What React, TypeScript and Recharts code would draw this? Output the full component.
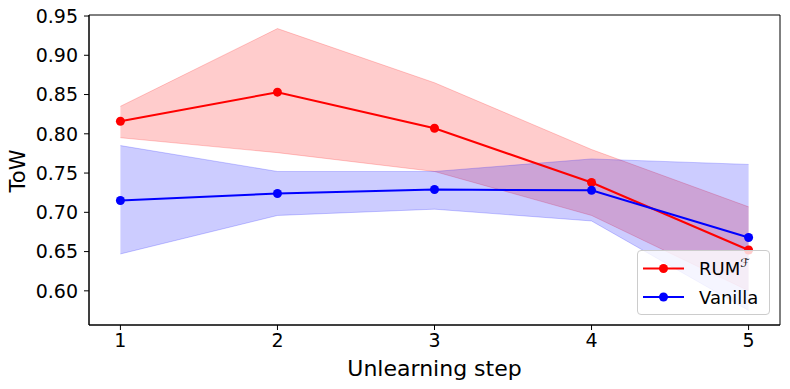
import React from 'react';
import { ComposedChart, Area, Line, XAxis, YAxis, ReferenceArea } from 'recharts';

const steps = [1, 2, 3, 4, 5];
const rumMean = [0.816, 0.853, 0.807, 0.738, 0.652];
const rumUpper = [0.835, 0.934, 0.865, 0.780, 0.707];
const rumLower = [0.795, 0.776, 0.752, 0.696, 0.600];
const vanillaMean = [0.715, 0.724, 0.729, 0.728, 0.668];
const vanillaUpper = [0.785, 0.752, 0.752, 0.768, 0.761];
const vanillaLower = [0.647, 0.696, 0.704, 0.689, 0.575];
const yTicks = [0.6, 0.65, 0.7, 0.75, 0.8, 0.85, 0.9, 0.95];

const xDomain = [0.8, 5.2];
const yDomain = [0.5565, 0.9513];

const data = steps.map((s, i) => ({
  step: s,
  rum: rumMean[i],
  rumBand: [rumLower[i], rumUpper[i]],
  vanilla: vanillaMean[i],
  vanillaBand: [vanillaLower[i], vanillaUpper[i]],
}));

const FONT = 'DejaVu Sans';
const tickStyle = { fontSize: 19, fill: '#000', fontFamily: FONT };

const LegendBox = () => (
  <div
    style={{
      position: 'absolute',
      left: 637,
      top: 250,
      width: 133,
      height: 65,
      boxSizing: 'border-box',
      border: '1px solid #cccccc',
      borderRadius: 4,
      background: 'rgba(255,255,255,0.8)',
    }}
  >
    <svg width={133} height={65} style={{ position: 'absolute', left: -1, top: -1 }}>
      <line x1={6} x2={47} y1={18.5} y2={18.5} stroke="red" strokeWidth={2} />
      <circle cx={26.5} cy={18.5} r={4.5} fill="red" />
      <text x={62} y={25} fontSize={18} fontFamily={FONT}>
        RUM
        <tspan dy={-8} fontSize={12} fontStyle="italic">ℱ</tspan>
      </text>
      <line x1={6} x2={47} y1={47} y2={47} stroke="blue" strokeWidth={2} />
      <circle cx={26.5} cy={47} r={4.5} fill="blue" />
      <text x={62} y={53.5} fontSize={18} fontFamily={FONT}>
        Vanilla
      </text>
    </svg>
  </div>
);

export default function App() {
  return (
    <div style={{ position: 'absolute', left: 0, top: 0, width: 790, height: 389 }}>
      <ComposedChart
        width={790}
        height={389}
        data={data}
        margin={{ top: 15, right: 10, bottom: 4, left: 0 }}
      >
        <XAxis
          dataKey="step"
          type="number"
          domain={xDomain}
          ticks={steps}
          stroke="#000"
          tickSize={5}
          tickMargin={4}
          tick={tickStyle}
          height={60}
          label={{
            content: (p: any) => (
              <text
                x={p.viewBox.x + p.viewBox.width / 2}
                y={376}
                textAnchor="middle"
                fontSize={22}
                fontFamily={FONT}
              >
                Unlearning step
              </text>
            ),
          }}
        />
        <YAxis
          type="number"
          domain={yDomain}
          ticks={yTicks}
          tickFormatter={(v: number) => v.toFixed(2)}
          stroke="#000"
          tickSize={5}
          tickMargin={6}
          tick={tickStyle}
          width={89}
          label={{
            content: () => (
              <text
                x={25}
                y={171}
                transform="rotate(-90 25 171)"
                textAnchor="middle"
                fontSize={21}
                fontFamily={FONT}
              >
                ToW
              </text>
            ),
          }}
        />
        <Area
          type="linear"
          dataKey="rumBand"
          fill="red"
          fillOpacity={0.2}
          stroke="red"
          strokeOpacity={0.2}
          isAnimationActive={false}
        />
        <Area
          type="linear"
          dataKey="vanillaBand"
          fill="blue"
          fillOpacity={0.2}
          stroke="blue"
          strokeOpacity={0.2}
          isAnimationActive={false}
        />
        <Line
          type="linear"
          dataKey="rum"
          stroke="red"
          strokeWidth={2}
          dot={{ r: 4.5, fill: 'red', stroke: 'red', strokeWidth: 0 }}
          isAnimationActive={false}
        />
        <Line
          type="linear"
          dataKey="vanilla"
          stroke="blue"
          strokeWidth={2}
          dot={{ r: 4.5, fill: 'blue', stroke: 'blue', strokeWidth: 0 }}
          isAnimationActive={false}
        />
        <ReferenceArea
          x1={xDomain[0]}
          x2={xDomain[1]}
          y1={yDomain[0]}
          y2={yDomain[1]}
          fill="none"
          stroke="#000"
          strokeWidth={1}
        />
      </ComposedChart>
      <LegendBox />
    </div>
  );
}
